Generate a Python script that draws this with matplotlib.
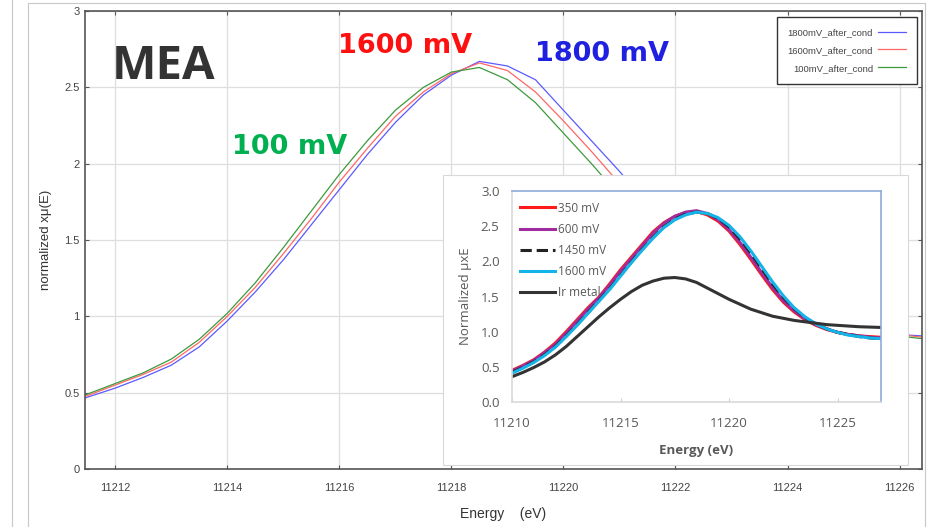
import numpy as np
import matplotlib
matplotlib.use("Agg")
import matplotlib.pyplot as plt
from matplotlib import font_manager
from matplotlib.patches import Rectangle
from matplotlib.lines import Line2D

# main panel: Ir L3 edge XANES of the MEA after conditioning
energy = np.arange(11211.0, 11226.51, 0.5)
mu_1800 = [0.42, 0.47, 0.53, 0.60, 0.68, 0.80, 0.97, 1.16, 1.37, 1.60, 1.83, 2.06,
           2.27, 2.45, 2.58, 2.67, 2.64, 2.55, 2.35, 2.15, 1.95, 1.74, 1.54, 1.37,
           1.22, 1.11, 1.03, 0.97, 0.93, 0.90, 0.88, 0.87]
mu_1600 = [0.43, 0.48, 0.55, 0.62, 0.70, 0.83, 1.00, 1.19, 1.41, 1.64, 1.88, 2.10,
           2.31, 2.47, 2.59, 2.66, 2.61, 2.47, 2.28, 2.08, 1.87, 1.66, 1.47, 1.31,
           1.17, 1.07, 1.00, 0.95, 0.92, 0.90, 0.88, 0.86]
mu_100 = [0.44, 0.49, 0.56, 0.63, 0.72, 0.85, 1.02, 1.22, 1.45, 1.69, 1.93, 2.15,
          2.35, 2.50, 2.60, 2.63, 2.55, 2.40, 2.20, 2.00, 1.79, 1.58, 1.40, 1.25,
          1.13, 1.04, 0.98, 0.94, 0.91, 0.89, 0.87, 0.85]
main_labels = ["1800mV_after_cond", "1600mV_after_cond", "100mV_after_cond"]
main_colors = ["#5a5aff", "#ff6666", "#3c9a3c"]

# inset: potential series vs Ir metal reference
e_in = np.arange(11210.0, 11227.01, 0.5)
in_350 = [0.45, 0.52, 0.60, 0.71, 0.84, 1.00, 1.17, 1.34, 1.49, 1.68, 1.88, 2.06,
          2.24, 2.42, 2.55, 2.64, 2.69, 2.71, 2.66, 2.57, 2.43, 2.24, 2.03, 1.81,
          1.60, 1.42, 1.28, 1.17, 1.09, 1.03, 0.99, 0.96, 0.94, 0.93, 0.92]
in_600 = [0.44, 0.51, 0.59, 0.70, 0.82, 0.98, 1.15, 1.32, 1.48, 1.66, 1.86, 2.04,
          2.22, 2.40, 2.54, 2.64, 2.70, 2.72, 2.68, 2.59, 2.45, 2.27, 2.06, 1.84,
          1.63, 1.44, 1.30, 1.18, 1.10, 1.04, 0.99, 0.96, 0.94, 0.92, 0.91]
in_1450 = [0.42, 0.49, 0.57, 0.67, 0.79, 0.94, 1.10, 1.27, 1.44, 1.61, 1.80, 1.99,
           2.17, 2.34, 2.49, 2.60, 2.67, 2.70, 2.68, 2.61, 2.49, 2.32, 2.12, 1.90,
           1.68, 1.49, 1.33, 1.20, 1.11, 1.04, 0.99, 0.96, 0.93, 0.91, 0.90]
in_1600 = [0.41, 0.48, 0.56, 0.66, 0.78, 0.93, 1.09, 1.26, 1.43, 1.60, 1.79, 1.98,
           2.16, 2.33, 2.48, 2.59, 2.66, 2.70, 2.68, 2.62, 2.51, 2.35, 2.15, 1.93,
           1.71, 1.51, 1.34, 1.21, 1.11, 1.04, 0.99, 0.95, 0.93, 0.91, 0.90]
in_ir = [0.36, 0.42, 0.49, 0.57, 0.67, 0.79, 0.93, 1.07, 1.21, 1.34, 1.46, 1.57,
         1.66, 1.72, 1.76, 1.77, 1.75, 1.70, 1.62, 1.54, 1.46, 1.39, 1.32, 1.27,
         1.22, 1.19, 1.16, 1.14, 1.12, 1.10, 1.09, 1.08, 1.07, 1.065, 1.06]
in_labels = ["350 mV", "600 mV", "1450 mV", "1600 mV", "Ir metal"]
in_colors = ["#ff1a1a", "#a02ca0", "#222222", "#14b4e8", "#333333"]
in_styles = ["-", "-", "--", "-", "-"]

# narrow face for the small instrument-style labels, if the system has one
names = {f.name for f in font_manager.fontManager.ttflist}
narrow = "Liberation Sans Narrow" if "Liberation Sans Narrow" in names else "Liberation Sans"

W, H = 940, 527
fig = plt.figure(figsize=(9.4, 5.27), dpi=100)

def px(x0, y0, x1, y1):
    return [x0 / W, 1 - y1 / H, (x1 - x0) / W, (y1 - y0) / H]

# page frame
fig.add_artist(Line2D([12 / W, 12 / W], [0, 1], color="#c8c8c8", lw=0.8))
fig.add_artist(Rectangle((28 / W, -0.05), (925 - 28) / W, 1.05 - 3 / H,
                         fill=False, ec="#c8c8c8", lw=0.8))

ax = fig.add_axes(px(85, 11, 922, 469))
for y, lab, c in zip([mu_1800, mu_1600, mu_100], main_labels, main_colors):
    ax.plot(energy, y, color=c, lw=0.9, label=lab)
ax.set_xlim(11211.46, 11226.4)
ax.set_ylim(0, 3)
ax.set_xticks(np.arange(11212, 11227, 2))
ax.set_yticks(np.arange(0, 3.01, 0.5))
ax.set_xticklabels([str(int(v)) for v in np.arange(11212, 11227, 2)])
ax.set_yticklabels(["0", "0.5", "1", "1.5", "2", "2.5", "3"])
ax.grid(color="#dedede", lw=0.9)
ax.tick_params(direction="in", top=True, right=True, length=3, width=0.8,
               colors="#555555", labelsize=8, labelcolor="#444444")
ax.tick_params(axis="x", pad=10)
ax.tick_params(axis="y", pad=4)
for lbl in ax.get_xticklabels() + ax.get_yticklabels():
    lbl.set_family(narrow)
for s in ax.spines.values():
    s.set_color("#555555")
    s.set_linewidth(1.2)
ax.set_ylabel("normalized xμ(E)", fontsize=9.5, color="#333333", labelpad=9,
              family="Liberation Sans")
ax.set_xlabel("Energy    (eV)", fontsize=10, color="#333333", labelpad=10,
              family=narrow)
leg = ax.legend(loc="upper right", bbox_to_anchor=(0.994, 0.987),
                borderaxespad=0, markerfirst=False, fancybox=False,
                framealpha=1, edgecolor="#333333", handlelength=3.0,
                borderpad=1.15, labelspacing=0.95, handletextpad=0.5,
                prop={"family": narrow, "size": 6.8})
leg.get_frame().set_linewidth(1.0)
for t in leg.get_texts():
    t.set_color("#444444")

fig.text(112 / W, 1 - 79 / H, "MEA", fontsize=34, fontweight="bold",
         color="#333333", family="Open Sans")
fig.text(338 / W, 1 - 53 / H, "1600 mV", fontsize=19.5, fontweight="bold",
         color="#ff1010")
fig.text(535 / W, 1 - 61 / H, "1800 mV", fontsize=19.5, fontweight="bold",
         color="#2020e0")
fig.text(232 / W, 1 - 154 / H, "100 mV", fontsize=19.5, fontweight="bold",
         color="#00b050")

# inset background box
fig.add_artist(Rectangle((443 / W, 1 - 465 / H), (908 - 443) / W, (465 - 175) / H,
                         fc="white", ec="#d9d9d9", lw=0.8, zorder=3))

ins = fig.add_axes(px(512, 191, 881, 402), zorder=4)
for y, lab, c, ls in zip([in_350, in_600, in_1450, in_1600, in_ir],
                         in_labels, in_colors, in_styles):
    ins.plot(e_in, y, color=c, lw=2.2, ls=ls, label=lab)
ins.set_xlim(11210, 11227)
ins.set_ylim(0, 3)
ins.set_xticks([11210, 11215, 11220, 11225])
ins.set_yticks(np.arange(0, 3.01, 0.5))
ins.set_yticklabels(["%.1f" % v for v in np.arange(0, 3.01, 0.5)])
ins.tick_params(axis="x", direction="in", length=3, color="#d0d0d0",
                labelsize=9.5, labelcolor="#595959", pad=11)
ins.tick_params(axis="y", length=0, labelsize=9.5, labelcolor="#595959", pad=9)
for lbl in ins.get_xticklabels() + ins.get_yticklabels():
    lbl.set_family("Open Sans")
ins.spines["left"].set_color("#d9d9d9")
ins.spines["bottom"].set_color("#d9d9d9")
ins.spines["top"].set_color("#8faadc")
ins.spines["right"].set_color("#8faadc")
for s in ins.spines.values():
    s.set_linewidth(1.2)
ins.set_ylabel("Normalized μxE", fontsize=9.5, color="#595959",
               family="Open Sans", labelpad=6)
ins.set_xlabel("Energy (eV)", fontsize=9.5, fontweight="bold", color="#595959",
               family="Open Sans", labelpad=10)
il = ins.legend(loc="upper left", bbox_to_anchor=(-0.008, 1.0), frameon=False,
                handlelength=3.0, labelspacing=0.68, handletextpad=0.25,
                borderpad=0.4, prop={"family": "Open Sans", "size": 8.5})
for t in il.get_texts():
    t.set_color("#595959")

fig.savefig("out.png", dpi=100)
